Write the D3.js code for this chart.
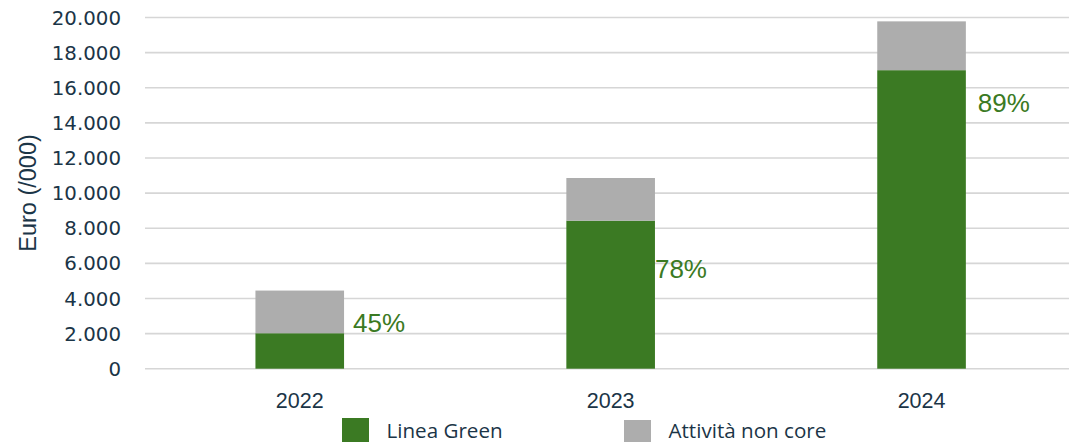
<!DOCTYPE html>
<html><head><meta charset="utf-8">
<script src="https://cdn.jsdelivr.net/npm/d3@7"></script>
<style>html,body{margin:0;padding:0;background:#fff;overflow:hidden}</style>
</head><body>
<svg id="c" width="1069" height="442"></svg>
<script>
const categories = ["2022", "2023", "2024"];
const lineaGreen = [2020, 8430, 17000];
const nonCore = [2430, 2430, 2780];
const pctLabels = ["45%", "78%", "89%"];
const pctLabelAt = [2100, 5160, 14640];
const yTicks = [0, 2000, 4000, 6000, 8000, 10000, 12000, 14000, 16000, 18000, 20000];
const seriesNames = ["Linea Green", "Attività non core"];
const colors = ["#3b7a23", "#adadad"];
const textColor = "#1b3547";

const svg = d3.select("#c");
const y = d3.scaleLinear().domain([0, 20000]).range([368.7, 17.5]);
const x = d3.scaleBand().domain(categories).range([144.3, 1077]).paddingInner(0.715).paddingOuter(0.3575);

const fmt = v => v === 0 ? "0" : d3.format(",")(v).replace(/,/g, ".");

// gridlines
svg.append("g").selectAll("line").data(yTicks).join("line")
  .attr("x1", 145).attr("x2", 1069)
  .attr("y1", d => y(d)).attr("y2", d => y(d))
  .attr("stroke", "#d6d6d6").attr("stroke-width", 1.6);

// y tick labels
svg.append("g").selectAll("text").data(yTicks).join("text")
  .attr("x", 121).attr("y", d => y(d)).attr("dy", "0.36em")
  .attr("text-anchor", "end")
  .attr("font-family", "DejaVu Sans").attr("font-size", 19.8)
  .attr("fill", textColor).text(fmt);

// y axis title
svg.append("text")
  .attr("transform", "translate(36,193) rotate(-90)")
  .attr("text-anchor", "middle")
  .attr("font-family", "Liberation Sans, Arial").attr("font-size", 23.5)
  .attr("fill", textColor).text("Euro (/000)");

// stacked bars
const rows = categories.map((c, i) => ({cat: c, a: lineaGreen[i], b: nonCore[i]}));
const stack = d3.stack().keys(["a", "b"])(rows);
svg.append("g").selectAll("g").data(stack).join("g")
  .attr("fill", (d, i) => colors[i])
  .selectAll("rect").data(d => d).join("rect")
  .attr("x", d => x(d.data.cat)).attr("width", x.bandwidth())
  .attr("y", d => y(d[1])).attr("height", d => y(d[0]) - y(d[1]));

// percent labels
const pctOffset = [9, 0, 12];
svg.append("g").selectAll("text").data(pctLabels).join("text")
  .attr("x", (d, i) => x(categories[i]) + x.bandwidth() + pctOffset[i])
  .attr("y", (d, i) => y(pctLabelAt[i]))
  .attr("font-family", "Liberation Sans, Arial").attr("font-size", 26)
  .attr("fill", colors[0]).text(d => d);

// x labels
svg.append("g").selectAll("text").data(categories).join("text")
  .attr("x", d => x(d) + x.bandwidth() / 2).attr("y", 407.7)
  .attr("text-anchor", "middle")
  .attr("font-family", "Liberation Sans, Arial").attr("font-size", 21.5)
  .attr("fill", textColor).text(d => d);

// legend
const legX = [342, 624];
const legY = [418, 420];
const lg = svg.append("g").selectAll("g").data(seriesNames).join("g");
lg.append("rect").attr("x", (d, i) => legX[i]).attr("y", (d, i) => legY[i])
  .attr("width", 27).attr("height", 27).attr("fill", (d, i) => colors[i]);
lg.append("text").attr("x", (d, i) => legX[i] + 44.5).attr("y", 437.5)
  .attr("font-family", "Open Sans").attr("font-size", 20.6)
  .attr("fill", textColor).text(d => d);
</script>
</body></html>
